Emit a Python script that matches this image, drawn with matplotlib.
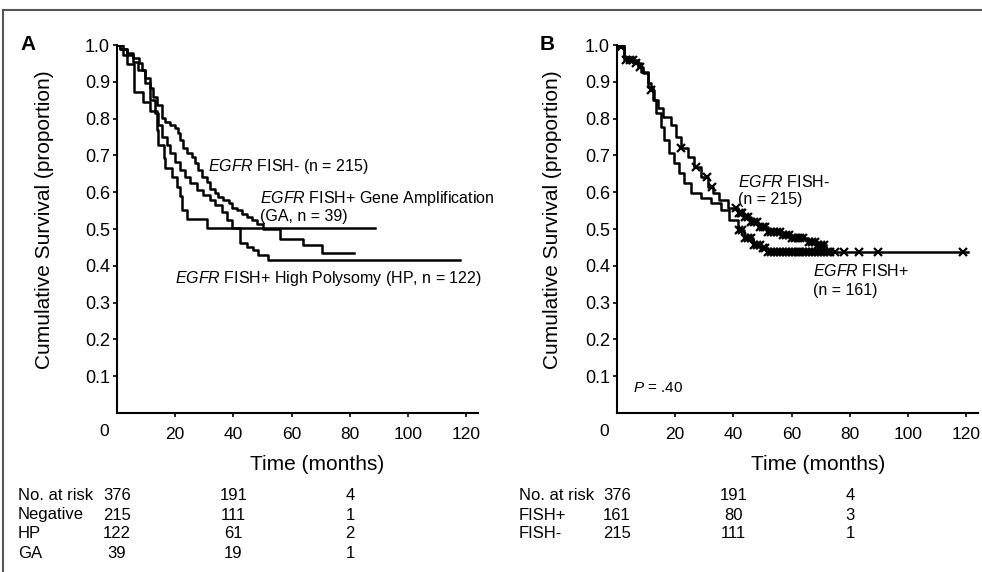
import numpy as np
import matplotlib.pyplot as plt
from matplotlib.lines import Line2D
import matplotlib.transforms as mtransforms

plt.rcParams['font.family'] = ['Liberation Sans', 'DejaVu Sans']
plt.rcParams['mathtext.fontset'] = 'custom'
plt.rcParams['mathtext.rm'] = 'Liberation Sans'
plt.rcParams['mathtext.it'] = 'Liberation Sans:italic'

# Panel A curves (months, survival)
neg_t = [0, 1.0, 3.3, 5.6, 7.7, 8.5, 9.6, 11.3, 12.5, 13.6, 15.4, 16.5, 18.2, 19.9, 21.1, 21.6,
         22.8, 23.9, 25.6, 26.8, 27.9, 29.1, 30.8, 31.9, 33.7, 34.8, 36.5, 38.3, 39.4, 41.1,
         42.8, 44.6, 46.3, 48.0, 50.2, 56.0, 64.0, 70.3, 81.4]
neg_s = [1.0, 0.99, 0.977, 0.964, 0.950, 0.932, 0.909, 0.882, 0.860, 0.837, 0.801, 0.792, 0.783,
         0.774, 0.760, 0.742, 0.719, 0.706, 0.697, 0.679, 0.660, 0.642, 0.629, 0.610, 0.597,
         0.588, 0.579, 0.570, 0.556, 0.552, 0.542, 0.533, 0.524, 0.513, 0.500, 0.472, 0.457,
         0.434, 0.434]
hp_t = [0, 1.0, 3.3, 5.6, 7.3, 9.6, 11.3, 13.1, 14.2, 15.4, 17.1, 18.2, 19.9, 21.6, 23.4, 25.1,
        27.4, 29.7, 32.0, 33.7, 36.0, 37.7, 39.4, 42.3, 44.6, 46.7, 48.5, 51.9, 117.9]
hp_s = [1.0, 0.99, 0.973, 0.955, 0.932, 0.896, 0.851, 0.814, 0.783, 0.751, 0.728, 0.706, 0.683,
        0.660, 0.642, 0.624, 0.606, 0.592, 0.579, 0.565, 0.547, 0.524, 0.502, 0.461, 0.452,
        0.443, 0.429, 0.416, 0.416]
ga_t = [0, 2.0, 3.4, 6.0, 9.0, 11.5, 13.7, 14.2, 16.0, 16.5, 18.8, 20.5, 21.6, 22.2, 23.9, 30.8, 88.7]
ga_s = [1.0, 0.974, 0.949, 0.872, 0.846, 0.821, 0.769, 0.728, 0.692, 0.667, 0.641, 0.615,
        0.590, 0.552, 0.528, 0.503, 0.503]

# Panel B curves
fm_t = [0, 1.4, 2.5, 4.8, 7.1, 8.8, 10.5, 11.7, 12.8, 14.0, 15.7, 18.6, 20.3, 22.0, 24.3, 26.6,
        28.9, 31.2, 32.9, 35.2, 38.0, 41.5, 43.7, 46.0, 48.3, 51.8, 56.4, 59.8, 65.5, 68.5, 71.8]
fm_s = [1.0, 0.995, 0.968, 0.959, 0.941, 0.923, 0.896, 0.878, 0.851, 0.828, 0.805, 0.783, 0.751,
        0.719, 0.697, 0.669, 0.642, 0.615, 0.597, 0.579, 0.556, 0.543, 0.533, 0.520, 0.506,
        0.493, 0.484, 0.475, 0.466, 0.457, 0.457]
fp_t = [0, 2.5, 6.0, 8.2, 10.5, 12.3, 13.4, 15.1, 16.3, 18.0, 19.7, 21.4, 23.1, 25.4, 28.9, 32.3,
        35.7, 38.6, 41.5, 43.7, 46.6, 49.5, 51.8, 120.5]
fp_s = [1.0, 0.960, 0.950, 0.927, 0.887, 0.851, 0.814, 0.778, 0.742, 0.706, 0.679, 0.651, 0.624,
        0.597, 0.583, 0.570, 0.552, 0.524, 0.497, 0.475, 0.457, 0.448, 0.437, 0.437]
fm_cens = [1.5, 5.5, 8.0, 11.7, 22.0, 27.0, 31.0, 32.5, 41, 42, 42.5, 43, 44, 45, 46, 47, 48, 49,
           50, 51, 52, 53, 54, 55, 56, 57, 58, 59, 60, 61, 62, 63, 64, 66, 67, 68, 69, 70, 71]
fp_cens = [1.0, 3.0, 4.5, 6.5, 42, 43, 44, 45, 46, 47, 48, 49, 50, 51, 52, 53, 54, 55, 56, 57,
           58, 59, 60, 61, 62, 63, 64, 65, 66, 67, 68, 69, 70, 71, 72, 73, 75, 78, 83, 89.6, 118.8]

# risk tables
risk_times = [0, 40, 80]
riskA_labels = ['No. at risk', 'Negative', 'HP', 'GA']
riskA = [[376, 191, 4], [215, 111, 1], [122, 61, 2], [39, 19, 1]]
riskB_labels = ['No. at risk', 'FISH+', 'FISH-']
riskB = [[376, 191, 4], [161, 80, 3], [215, 111, 1]]

W, H = 982, 572
fig = plt.figure(figsize=(W / 100, H / 100), dpi=100)


def fx(px):
    return px / W


def fy(py):
    return 1 - py / H


def style_axes(ax):
    ax.set_xlim(0, 124)
    ax.set_ylim(0, 1.0)
    for s in ['top', 'right']:
        ax.spines[s].set_visible(False)
    for s in ['left', 'bottom']:
        ax.spines[s].set_linewidth(1.5)
    ax.set_yticks(np.arange(1, 11) / 10)
    ax.set_yticklabels(['%.1f' % v for v in np.arange(1, 11) / 10], fontsize=13)
    ax.set_xticks([20, 40, 60, 80, 100, 120])
    ax.set_xticklabels(['20', '40', '60', '80', '100', '120'], fontsize=12.5)
    ax.tick_params(direction='out', length=3, width=1.2)
    ax.tick_params(axis='y', pad=2)
    ax.tick_params(axis='x', pad=7)
    ax.patch.set_alpha(0)
    ax.annotate('0', xy=(0, 0), xycoords='data', xytext=(-9, -13.5), textcoords='offset points',
                ha='center', va='center', fontsize=12.5, annotation_clip=False)


axA = fig.add_axes([fx(117), fy(413), 361 / W, 368 / H])
axB = fig.add_axes([fx(617), fy(413), 361 / W, 368 / H])
style_axes(axA)
style_axes(axB)

lw = 1.8
axA.step(neg_t, neg_s, where='post', color='black', lw=lw)
axA.step(hp_t, hp_s, where='post', color='black', lw=lw)
axA.step(ga_t, ga_s, where='post', color='black', lw=lw)

axB.step(fm_t, fm_s, where='post', color='black', lw=lw)
axB.step(fp_t, fp_s, where='post', color='black', lw=lw)


def surv_at(times, surv, t):
    i = np.searchsorted(times, t, side='right') - 1
    return np.asarray(surv)[i]


axB.plot(fm_cens, surv_at(fm_t, fm_s, fm_cens), 'x', color='black', ms=6, mew=1.6)
axB.plot(fp_cens, surv_at(fp_t, fp_s, fp_cens), 'x', color='black', ms=6, mew=1.6)

# panel annotations
tsz = 11.5
fig.text(fx(208), fy(166), r'$\it{EGFR}$ FISH- (n = 215)', fontsize=tsz, va='center')
fig.text(fx(260), fy(198), r'$\it{EGFR}$ FISH+ Gene Amplification', fontsize=tsz, va='center')
fig.text(fx(260), fy(217), '(GA, n = 39)', fontsize=tsz, va='center')
fig.text(fx(175), fy(278), r'$\it{EGFR}$ FISH+ High Polysomy (HP, n = 122)', fontsize=tsz, va='center')

fig.text(fx(738), fy(182), r'$\it{EGFR}$ FISH-', fontsize=tsz, va='center')
fig.text(fx(738), fy(200), '(n = 215)', fontsize=tsz, va='center')
fig.text(fx(813), fy(271), r'$\it{EGFR}$ FISH+', fontsize=tsz, va='center')
fig.text(fx(813), fy(290), '(n = 161)', fontsize=tsz, va='center')
fig.text(fx(633), fy(388), r'$\it{P}$ = .40', fontsize=11, va='center')

fig.text(fx(28), fy(44), 'A', fontsize=15, fontweight='bold', ha='center', va='center')
fig.text(fx(547), fy(44), 'B', fontsize=15, fontweight='bold', ha='center', va='center')

ylab = 'Cumulative Survival (proportion)'
fig.text(fx(45), fy(220), ylab, rotation=90, fontsize=15, ha='center', va='center')
fig.text(fx(553), fy(220), ylab, rotation=90, fontsize=15, ha='center', va='center')
fig.text(fx(317), fy(465), 'Time (months)', fontsize=15, ha='center', va='center')
fig.text(fx(818), fy(465), 'Time (months)', fontsize=15, ha='center', va='center')

# risk tables
row_y = [495, 515, 534, 553]
for ax, labels, rows, lx in [(axA, riskA_labels, riskA, 18), (axB, riskB_labels, riskB, 519)]:
    trans = mtransforms.blended_transform_factory(ax.transData, fig.transFigure)
    for k, (lab, vals) in enumerate(zip(labels, rows)):
        fig.text(fx(lx), fy(row_y[k]), lab, fontsize=12, va='center')
        for t, v in zip(risk_times, vals):
            ax.text(t, fy(row_y[k]), str(v), transform=trans, fontsize=12,
                    ha='center', va='center', clip_on=False)

# outer frame (top and left edges)
fig.add_artist(Line2D([fx(3), fx(3)], [fy(10), 0], color='#555555', lw=1.5))
fig.add_artist(Line2D([fx(3), 1], [fy(10), fy(10)], color='#555555', lw=1.5))

fig.savefig('out.png', dpi=100)
